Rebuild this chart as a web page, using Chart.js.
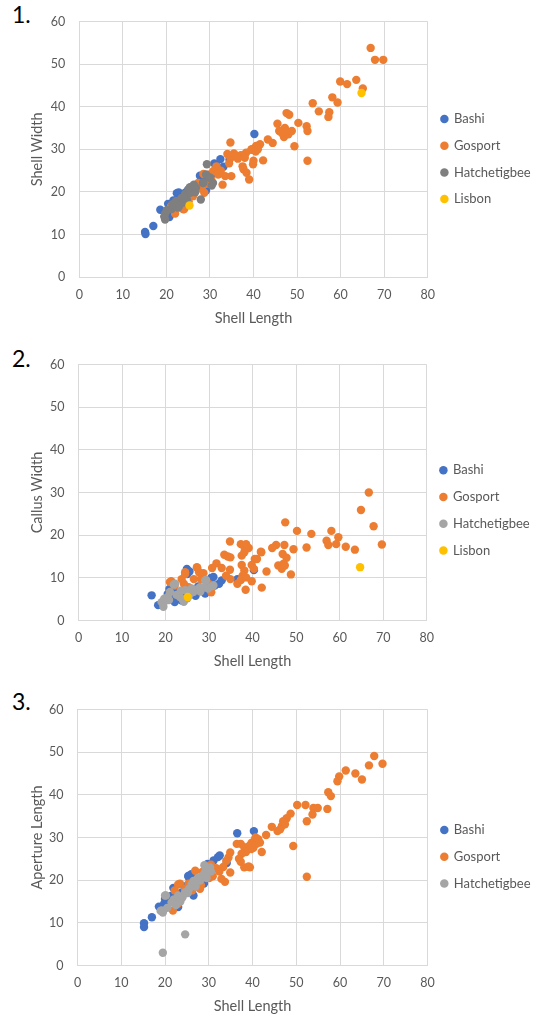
<!DOCTYPE html>
<html>
<head>
<meta charset="utf-8">
<script src="https://cdn.jsdelivr.net/npm/chart.js@4.4.1/dist/chart.umd.min.js"></script>
<style>
html, body { margin:0; padding:0; background:#ffffff; width:547px; height:1016px; overflow:hidden; position:relative; font-family:Lato, "Open Sans", sans-serif; }
.panel { position:absolute; left:0; width:547px; height:327px; }
.panel canvas { display:block; }
.num { position:absolute; left:12px; font-family:Lato, sans-serif; font-size:23px; line-height:23px; color:#000; }
</style>
</head>
<body>
<div class="num" style="top:3px">1.</div>
<div class="num" style="top:347px">2.</div>
<div class="num" style="top:690px">3.</div>
<div class="panel" style="top:0px"><canvas id="c1" width="547" height="327"></canvas></div>
<div class="panel" style="top:343px"><canvas id="c2" width="547" height="327"></canvas></div>
<div class="panel" style="top:688px"><canvas id="c3" width="547" height="327"></canvas></div>
<script>
// ---------- tick values ----------
const xTickValues = [0, 10, 20, 30, 40, 50, 60, 70, 80];
const yTickValues = [0, 10, 20, 30, 40, 50, 60];
const xAxisTitle = 'Shell Length';
const yAxisTitles = ['Shell Width', 'Callus Width', 'Aperture Length'];
const seriesNames = ['Bashi', 'Gosport', 'Hatchetigbee', 'Lisbon'];

// ---------- chart 1: Shell Width vs Shell Length ----------
const bashiShellWidth = [[15.1,10.6],[15.2,10.1],[17.0,12.0],[18.6,15.8],[20.4,17.2],[20.7,14.1],[21.0,15.3],[21.6,18.0],[22.4,19.7],[22.8,19.9],[23.2,18.6],[24.3,19.8],[25.0,20.5],[26.0,21.3],[26.7,21.0],[27.7,23.8],[28.3,22.5],[29.1,20.3],[29.6,23.3],[30.7,24.3],[31.0,26.7],[31.5,26.2],[32.4,27.7],[33.1,25.9],[34.5,27.6],[40.2,33.6]];
const gosportShellWidth = [[66.9,53.8],[67.9,51.0],[69.8,51.0],[59.9,45.9],[61.5,45.3],[63.6,46.3],[65.1,44.3],[58.1,42.2],[59.3,41.0],[53.6,40.8],[55.0,38.9],[57.4,38.7],[57.2,37.6],[47.6,38.5],[48.2,38.1],[50.3,36.2],[45.5,36.0],[52.2,35.4],[52.4,34.3],[47.2,35.0],[45.9,34.3],[48.8,34.3],[47.0,32.9],[48.0,33.5],[49.4,30.7],[52.4,27.3],[43.3,32.3],[44.4,31.5],[41.5,31.2],[40.6,30.8],[39.6,30.0],[40.0,27.3],[42.2,27.4],[34.7,31.6],[39.5,29.9],[38.3,29.2],[37.1,28.6],[36.4,27.8],[34.0,28.9],[34.7,28.0],[34.4,26.7],[37.5,26.0],[37.7,25.3],[38.4,24.5],[39.9,26.5],[39.0,22.9],[34.9,23.7],[33.5,23.7],[32.9,21.7],[31.5,26.0],[30.8,24.9],[29.9,24.1],[30.3,22.9],[29.1,21.9],[28.1,20.8],[27.3,22.1],[27.0,20.7],[26.1,19.0],[25.1,17.8],[23.9,15.9],[22.0,14.9],[24.1,16.0],[21.1,16.7],[31.9,24.1],[28.7,19.8],[28.5,24.2],[32.5,25.0],[35.5,29.0],[36.0,28.5],[38.0,28.0],[40.5,29.5],[41.0,30.0],[46.5,33.8],[47.5,34.2]];
const hatchetigbeeShellWidth = [[19.7,13.5],[19.7,14.9],[19.5,14.2],[20.1,15.7],[21.2,16.0],[21.4,17.1],[22.2,17.8],[22.7,16.3],[23.1,18.0],[23.5,18.6],[23.9,17.5],[24.3,19.5],[24.7,18.2],[25.1,20.6],[25.4,21.1],[25.5,19.8],[25.9,21.0],[26.3,21.7],[26.6,19.9],[27.9,18.2],[28.4,22.1],[28.5,22.2],[29.1,24.1],[29.3,26.5],[29.9,23.3],[30.0,23.4],[30.4,21.5],[30.7,22.1],[22.0,17.0],[23.0,16.8],[24.0,18.8],[26.8,21.0]];
const lisbonShellWidth = [[25.3,16.8],[64.8,43.2]];

// ---------- chart 2: Callus Width vs Shell Length ----------
const bashiCallusWidth = [[16.8,5.9],[18.3,3.6],[19.7,4.7],[20.5,6.2],[20.9,7.4],[21.3,5.5],[22.1,4.3],[22.1,7.0],[23.7,4.7],[24.5,5.5],[24.9,12.1],[25.0,10.9],[25.5,11.5],[26.1,6.2],[26.9,5.8],[28.5,7.0],[29.1,6.3],[30.5,10.0],[31.0,10.2],[31.3,8.2],[32.3,8.6],[32.9,9.4],[36.5,9.7],[40.3,11.8],[23.0,6.0],[27.5,8.0]];
const gosportCallusWidth = [[66.7,30.0],[64.9,25.9],[67.8,22.1],[69.7,17.8],[47.5,23.0],[50.2,21.0],[53.5,20.3],[58.1,21.0],[57.0,18.7],[59.7,19.5],[57.4,17.7],[59.2,17.9],[61.4,17.3],[63.5,16.6],[52.4,17.1],[49.4,16.7],[47.3,17.7],[45.4,17.7],[44.5,17.0],[41.9,16.1],[46.9,15.6],[47.8,14.7],[47.1,13.3],[45.9,12.9],[46.7,12.1],[47.4,12.9],[48.8,10.8],[43.2,11.5],[42.1,7.7],[40.5,14.4],[39.8,13.0],[40.3,12.1],[39.8,9.2],[34.8,18.5],[33.5,15.4],[34.3,15.0],[34.9,14.8],[31.7,13.4],[30.7,12.3],[32.9,12.3],[34.8,11.9],[34.9,9.7],[33.9,10.5],[37.3,17.9],[38.1,17.3],[38.5,17.9],[39.1,17.0],[38.1,16.0],[37.5,15.2],[37.5,13.0],[38.1,11.7],[37.7,10.5],[37.3,9.5],[38.5,10.1],[36.5,8.6],[38.4,7.2],[41.0,14.4],[42.0,16.0],[27.3,12.3],[27.7,11.3],[28.7,11.1],[28.1,9.7],[29.9,8.6],[26.5,9.7],[24.5,11.3],[24.2,8.6],[21.3,9.2],[22.1,8.2],[25.3,7.8],[30.5,6.6],[23.7,9.7],[21.0,9.0],[24.5,10.9],[27.2,12.5]];
const hatchetigbeeCallusWidth = [[19.5,3.2],[19.1,4.3],[19.5,3.9],[19.7,5.1],[20.8,4.8],[21.0,6.7],[21.9,8.4],[22.2,8.6],[23.3,5.5],[24.0,4.8],[24.5,7.1],[25.5,6.0],[26.4,6.7],[27.0,7.2],[27.9,7.8],[28.9,7.8],[29.1,9.4],[29.3,9.5],[29.8,7.5],[30.5,8.0],[31.0,8.2],[22.5,6.0],[23.5,7.0],[25.0,5.2],[26.0,7.5],[28.0,6.8],[20.5,5.5],[24.2,4.4]];
const lisbonCallusWidth = [[25.1,5.5],[64.7,12.5]];

// ---------- chart 3: Aperture Length vs Shell Length ----------
const bashiAperture = [[15.2,9.9],[15.2,9.0],[17.0,11.3],[18.6,13.8],[19.8,14.5],[20.0,15.6],[20.6,14.7],[21.4,16.3],[21.9,18.2],[23.0,13.7],[23.8,17.1],[25.3,21.0],[25.4,20.7],[26.0,21.4],[26.5,16.4],[28.9,19.2],[29.7,23.8],[31.1,24.6],[32.1,25.4],[32.5,25.8],[34.1,24.0],[36.5,31.0],[40.3,31.5],[22.5,16.0],[24.5,18.5],[27.5,20.0]];
const gosportAperture = [[67.8,49.1],[69.7,47.3],[66.6,46.9],[61.3,45.7],[63.5,45.0],[65.0,43.6],[59.8,44.3],[59.4,43.2],[57.3,40.6],[57.9,39.7],[57.1,36.7],[50.2,37.6],[52.1,37.6],[53.9,36.9],[54.9,36.9],[53.7,35.4],[52.4,33.8],[49.3,28.0],[52.4,20.8],[48.7,35.6],[47.8,34.5],[47.0,33.8],[46.7,32.7],[47.4,33.1],[46.3,31.9],[45.7,31.5],[44.4,32.5],[43.1,30.6],[40.6,29.6],[41.7,28.8],[39.8,28.8],[42.1,26.6],[39.4,27.6],[40.2,27.6],[39.4,23.0],[36.4,28.5],[37.3,28.5],[38.1,27.7],[39.3,28.1],[39.7,27.3],[40.9,28.5],[41.3,29.6],[40.7,30.0],[38.5,26.6],[37.5,26.2],[36.9,25.0],[37.3,24.3],[38.1,23.0],[39.1,23.2],[34.9,26.5],[34.5,25.3],[34.0,24.5],[34.9,21.8],[33.3,23.1],[33.7,19.6],[32.9,20.3],[31.7,22.8],[32.4,22.0],[30.5,23.6],[30.1,20.5],[30.9,20.9],[28.5,21.9],[27.8,20.0],[27.4,18.4],[28.2,18.8],[25.4,19.2],[26.2,17.6],[24.6,18.0],[23.4,19.2],[22.2,17.6],[21.8,12.9],[23.8,16.0],[23.0,14.5],[23.0,19.0],[26.9,22.2],[28.0,18.0]];
const hatchetigbeeAperture = [[19.5,3.0],[24.6,7.3],[19.2,12.9],[19.5,12.4],[19.0,12.8],[20.0,16.4],[20.2,16.4],[21.5,14.8],[22.0,15.5],[23.0,16.4],[23.5,15.0],[24.6,17.2],[24.0,16.0],[25.2,17.0],[26.1,19.1],[25.5,18.0],[27.0,18.5],[28.0,19.9],[28.5,21.0],[29.1,21.8],[29.5,20.5],[30.3,23.0],[29.8,22.3],[27.5,20.5],[26.5,19.8],[22.5,14.2],[20.5,13.5],[29.0,23.5],[30.5,22.0]];

// ---------- colours ----------
const colBashi = '#4472C4';
const colGosport = '#ED7D31';
const colHatchDark = '#7F7F7F';
const colHatchLight = '#A5A5A5';
const colLisbon = '#FFC000';

Chart.defaults.font.family = 'Lato, "Open Sans", sans-serif';
Chart.defaults.color = '#595959';

function buildChart(canvasId, spec) {
  const n = spec.series.length;
  const datasets = spec.series.map((s, i) => ({
    label: s.name,
    data: s.points.map(p => ({ x: p[0], y: p[1] })),
    backgroundColor: s.color,
    borderColor: s.color,
    borderWidth: 0,
    pointRadius: 4.2,
    pointHoverRadius: 4.2,
    order: n - i
  }));
  const plotH = 257.8;
  const canvasH = 327;
  const xAxisH = canvasH - spec.padTop - plotH;
  const chart = new Chart(document.getElementById(canvasId), {
    type: 'scatter',
    data: { datasets },
    options: {
      responsive: false,
      animation: false,
      devicePixelRatio: 1,
      events: [],
      layout: { padding: { top: spec.padTop, left: 0, bottom: 0, right: 0 } },
      plugins: {
        legend: {
          position: 'right',
          align: 'start',
          fullSize: true,
          maxWidth: 220,
          labels: {
            usePointStyle: true,
            pointStyle: 'circle',
            boxWidth: 6,
            boxHeight: 6,
            padding: 13.7,
            color: '#595959',
            font: { size: 13 },
            sort: (a, b) => a.datasetIndex - b.datasetIndex
          },
          title: { display: true, text: '', padding: { top: spec.legendTitleH - 10, bottom: 0 }, font: { size: 10, lineHeight: 1 } }
        },
        tooltip: { enabled: false }
      },
      scales: {
        x: {
          type: 'linear', position: 'bottom', min: 0, max: 80,
          afterBuildTicks: s => { s.ticks = xTickValues.map(v => ({ value: v })); },
          grid: { color: '#D9D9D9', lineWidth: 1, drawTicks: false },
          border: { color: '#D9D9D9', width: 1 },
          ticks: { padding: 10, color: '#595959', font: { size: 12.5 } },
          title: { display: true, text: xAxisTitle, color: '#595959', font: { size: 14.5 }, padding: { top: 0, bottom: 0 } },
          afterFit: s => { s.height = xAxisH; }
        },
        y: {
          type: 'linear', position: 'left', min: 0, max: 60,
          afterBuildTicks: s => { s.ticks = yTickValues.map(v => ({ value: v })); },
          grid: { color: '#D9D9D9', lineWidth: 1, drawTicks: false },
          border: { color: '#D9D9D9', width: 1 },
          ticks: { padding: 14, color: '#595959', font: { size: 12.5 } },
          title: { display: true, text: spec.yTitle, color: '#595959', font: { size: 14.5 }, padding: { top: 29, bottom: 0 } },
          afterFit: s => { s.width = spec.plotLeft; }
        }
      }
    }
  });
  for (let k = 0; k < 4; k++) {
    const dx = chart.chartArea.right - spec.plotRight;
    if (Math.abs(dx) < 0.05) break;
    chart.options.layout.padding.right += dx;
    chart.update('none');
  }
  return chart;
}

buildChart('c1', {
  yTitle: yAxisTitles[0], padTop: 19.3, plotLeft: 79.3, plotRight: 427.7, legendTitleH: 79.5,
  series: [
    { name: seriesNames[0], color: colBashi, points: bashiShellWidth },
    { name: seriesNames[1], color: colGosport, points: gosportShellWidth },
    { name: seriesNames[2], color: colHatchDark, points: hatchetigbeeShellWidth },
    { name: seriesNames[3], color: colLisbon, points: lisbonShellWidth }
  ]
});
buildChart('c2', {
  yTitle: yAxisTitles[1], padTop: 19.7, plotLeft: 78.5, plotRight: 426.7, legendTitleH: 87.4,
  series: [
    { name: seriesNames[0], color: colBashi, points: bashiCallusWidth },
    { name: seriesNames[1], color: colGosport, points: gosportCallusWidth },
    { name: seriesNames[2], color: colHatchLight, points: hatchetigbeeCallusWidth },
    { name: seriesNames[3], color: colLisbon, points: lisbonCallusWidth }
  ]
});
buildChart('c3', {
  yTitle: yAxisTitles[2], padTop: 19.7, plotLeft: 77.5, plotRight: 427.6, legendTitleH: 102.1,
  series: [
    { name: seriesNames[0], color: colBashi, points: bashiAperture },
    { name: seriesNames[1], color: colGosport, points: gosportAperture },
    { name: seriesNames[2], color: colHatchLight, points: hatchetigbeeAperture }
  ]
});
</script>
</body>
</html>
